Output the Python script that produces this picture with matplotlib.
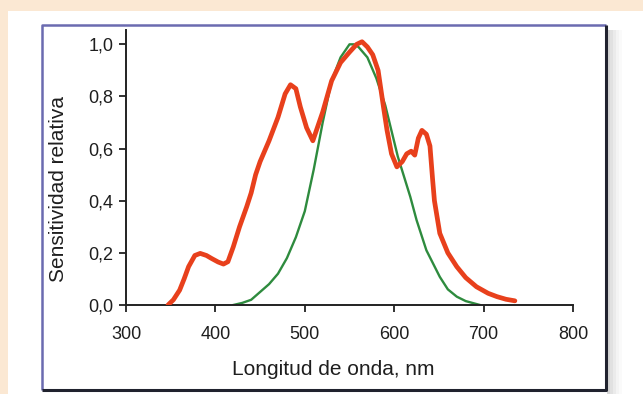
import matplotlib
matplotlib.use('Agg')
import matplotlib.pyplot as plt
from matplotlib.patches import Rectangle

plt.rcParams['font.family'] = ['Liberation Sans', 'DejaVu Sans']

# red curve: relative sensitivity of the detector
red_nm = [347, 353, 360, 365, 370, 377, 383, 390, 396, 403, 409, 414, 420, 427, 435,
          440, 445, 450, 460, 470, 478, 484, 490, 495, 502, 509, 515, 520, 530, 540,
          550, 558, 564, 570, 576, 582, 588, 592, 597, 603, 609, 614, 619, 623, 627,
          631, 636, 640, 643, 645, 651, 660, 670, 680, 692, 705, 715, 725, 735]
red_val = [0.0, 0.02, 0.057, 0.10, 0.147, 0.19, 0.198, 0.19, 0.178, 0.165, 0.157, 0.166,
           0.223, 0.30, 0.377, 0.43, 0.50, 0.55, 0.63, 0.72, 0.81, 0.845, 0.83, 0.76,
           0.68, 0.63, 0.69, 0.74, 0.86, 0.93, 0.97, 1.0, 1.01, 0.99, 0.96, 0.90, 0.76,
           0.67, 0.58, 0.53, 0.55, 0.58, 0.59, 0.575, 0.64, 0.67, 0.655, 0.61, 0.48,
           0.40, 0.275, 0.20, 0.147, 0.105, 0.07, 0.045, 0.032, 0.022, 0.016]

# green curve: eye sensitivity V(lambda)
green_nm = [420, 430, 440, 450, 460, 470, 480, 490, 500, 510, 520, 530, 540, 550, 555,
            560, 570, 580, 590, 604, 618, 625, 636, 651, 660, 670, 680, 696]
green_val = [0.0, 0.008, 0.02, 0.05, 0.08, 0.12, 0.18, 0.26, 0.36, 0.52, 0.70, 0.86,
             0.95, 1.0, 1.0, 0.99, 0.95, 0.87, 0.766, 0.57, 0.415, 0.326, 0.21, 0.108,
             0.06, 0.032, 0.015, 0.0]

x_ticks = [300, 400, 500, 600, 700, 800]
y_ticks = [0.0, 0.2, 0.4, 0.6, 0.8, 1.0]
y_tick_labels = ['0,0', '0,2', '0,4', '0,6', '0,8', '1,0']

W, H = 643, 394
fig = plt.figure(figsize=(W / 100, H / 100), dpi=100, facecolor='#fbe8d3')

# background frame drawn in pixel coordinates
bg = fig.add_axes([0, 0, 1, 1], zorder=-1)
bg.set_xlim(0, W)
bg.set_ylim(H, 0)
bg.axis('off')
bg.add_patch(Rectangle((8, 11), W - 8, H - 11, facecolor='white', edgecolor='none'))
for i, a in enumerate([0.35, 0.25, 0.16, 0.09, 0.04]):
    bg.add_patch(Rectangle((607 + 3 * i, 30), 3, H - 30, facecolor='#888888',
                           alpha=a, edgecolor='none'))
bg.add_patch(Rectangle((42, 25), 564, 365, facecolor='white', edgecolor='none'))
bg.plot([42, 42, 606], [390, 25, 25], color='#6b6bb0', lw=1.8, solid_capstyle='butt')
bg.plot([606, 606, 42], [25, 390, 390], color='#20222e', lw=2.2, solid_capstyle='butt')

ax = fig.add_axes([126 / W, 1 - 305 / H, 447 / W, 275 / H])
ax.patch.set_alpha(0)
ax.plot(green_nm, green_val, color='#2e8b3e', lw=1.7, zorder=2)
ax.plot(red_nm, red_val, color='#e8401c', lw=3.4, zorder=3,
        solid_joinstyle='round', solid_capstyle='round')

ax.set_xlim(300, 800)
ax.set_ylim(0, 1.055)
ax.set_xticks(x_ticks)
ax.set_yticks(y_ticks)
ax.set_yticklabels(y_tick_labels)
for s in ['top', 'right']:
    ax.spines[s].set_visible(False)
for s in ['left', 'bottom']:
    ax.spines[s].set_color('#222222')
    ax.spines[s].set_linewidth(1.4)
ax.tick_params(axis='both', direction='out', length=5, width=1.3, color='#222222',
               labelsize=13, labelcolor='#1e1e1e')
ax.tick_params(axis='x', pad=10)
ax.tick_params(axis='y', pad=4)

ax.set_xlabel('Longitud de onda, nm', fontsize=15, color='#1e1e1e')
ax.xaxis.set_label_coords(0.463, -0.2)
ax.set_ylabel('Sensitividad relativa', fontsize=15, color='#1e1e1e')
ax.yaxis.label.set_va('center')
ax.yaxis.set_label_coords(-0.15, 0.42)

fig.savefig('out.png', dpi=100, facecolor=fig.get_facecolor())
